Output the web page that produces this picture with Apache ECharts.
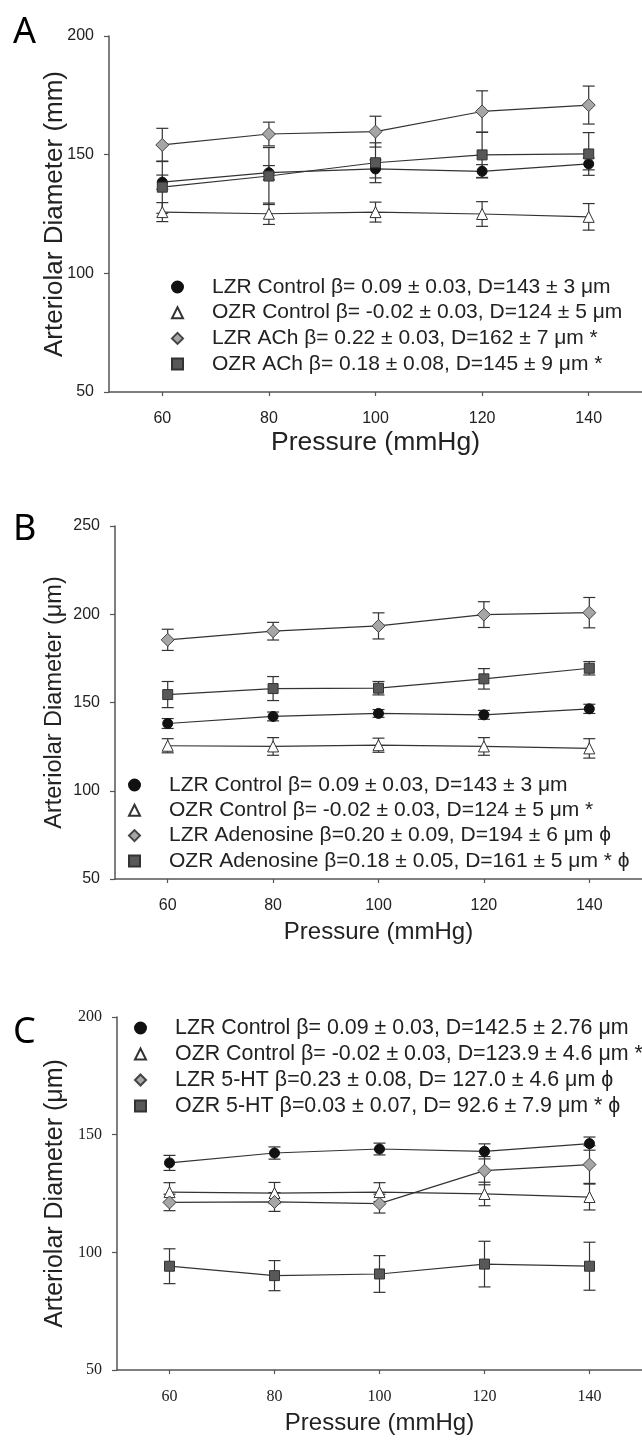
<!DOCTYPE html>
<html><head><meta charset="utf-8">
<script src="https://cdn.jsdelivr.net/npm/echarts@6/dist/echarts.min.js"></script>
<style>html,body{margin:0;padding:0;background:#fff}#c{width:642px;height:1443px}</style>
</head><body><div id="c"></div>
<script>
// ---------- data ----------
const pressures = [60, 80, 100, 120, 140];
const xTicks = [60, 80, 100, 120, 140];

// Panel A
const aLzrControl = [138.4, 142.4, 144.0, 143.0, 146.1];
const aLzrControlErr = [3.0, 3.0, 3.8, 2.8, 2.5];
const aOzrControl = [125.8, 125.1, 125.8, 125.0, 123.8];
const aOzrControlErr = [4.0, 4.5, 4.2, 5.2, 5.6];
const aLzrACh = [154.1, 158.7, 159.7, 168.2, 170.9];
const aLzrAChErr = [7.0, 5.0, 6.5, 8.7, 8.0];
const aOzrACh = [136.3, 141.0, 146.6, 149.9, 150.3];
const aOzrAChErr = [11.0, 12.0, 8.4, 9.5, 9.0];
const aLegend = [
  'LZR Control \u03b2= 0.09 \u00b1 0.03, D=143 \u00b1 3 \u03bcm',
  'OZR Control \u03b2= -0.02 \u00b1 0.03, D=124 \u00b1 5 \u03bcm',
  'LZR ACh \u03b2= 0.22 \u00b1 0.03, D=162 \u00b1 7 \u03bcm *',
  'OZR ACh \u03b2= 0.18 \u00b1 0.08, D=145 \u00b1 9 \u03bcm *'
];

// Panel B
const bLzrControl = [138.1, 142.1, 143.8, 143.0, 146.4];
const bLzrControlErr = [2.8, 2.5, 2.2, 2.5, 2.6];
const bOzrControl = [125.5, 125.1, 125.8, 125.1, 124.0];
const bOzrControlErr = [4.0, 5.0, 4.0, 5.0, 5.5];
const bLzrAdenosine = [185.5, 190.4, 193.4, 199.8, 200.9];
const bLzrAdenosineErr = [6.0, 5.0, 7.4, 7.3, 8.6];
const bOzrAdenosine = [154.5, 157.9, 158.1, 163.4, 169.4];
const bOzrAdenosineErr = [7.4, 6.8, 3.8, 5.8, 3.8];
const bLegend = [
  'LZR Control \u03b2= 0.09 \u00b1 0.03, D=143 \u00b1 3 \u03bcm',
  'OZR Control \u03b2= -0.02 \u00b1 0.03, D=124 \u00b1 5 \u03bcm *',
  'LZR Adenosine \u03b2=0.20 \u00b1 0.09, D=194 \u00b1 6 \u03bcm \u03d5',
  'OZR Adenosine \u03b2=0.18 \u00b1 0.05, D=161 \u00b1 5 \u03bcm * \u03d5'
];

// Panel C
const cLzrControl = [138.0, 142.2, 143.9, 142.9, 146.2];
const cLzrControlErr = [3.2, 2.6, 2.5, 3.2, 2.8];
const cOzrControl = [125.6, 125.2, 125.6, 124.8, 123.5];
const cOzrControlErr = [4.0, 4.5, 4.0, 5.0, 5.5];
const cLzr5HT = [121.2, 121.4, 120.7, 134.7, 137.3];
const cLzr5HTErr = [3.5, 4.0, 4.0, 6.0, 8.0];
const cOzr5HT = [94.1, 90.1, 90.8, 95.0, 94.1];
const cOzr5HTErr = [7.4, 6.4, 7.8, 9.7, 10.2];
const cLegend = [
  'LZR Control \u03b2= 0.09 \u00b1 0.03, D=142.5 \u00b1 2.76 \u03bcm',
  'OZR Control \u03b2= -0.02 \u00b1 0.03, D=123.9 \u00b1 4.6 \u03bcm *',
  'LZR 5-HT \u03b2=0.23 \u00b1 0.08, D= 127.0 \u00b1 4.6 \u03bcm \u03d5',
  'OZR 5-HT \u03b2=0.03 \u00b1 0.07, D= 92.6 \u00b1 7.9 \u03bcm * \u03d5'
];

// ---------- styles ----------
const SANS = 'Liberation Sans, Arial, sans-serif';
const SERIF = 'Liberation Serif, Times New Roman, serif';
const styles = [
  {symbol: 'circle', size: 10, color: '#111111', border: '#111111'},
  {symbol: 'triangle', size: 11, color: '#ffffff', border: '#333333'},
  {symbol: 'diamond', size: 13, color: '#a6a6a6', border: '#444444'},
  {symbol: 'rect', size: 10, color: '#585858', border: '#333333'}
];

const panels = [
  {key: 'A', series: [[aLzrControl, aLzrControlErr], [aOzrControl, aOzrControlErr], [aLzrACh, aLzrAChErr], [aOzrACh, aOzrAChErr]],
   legend: aLegend, yMax: 200, yName: 'Arteriolar Diameter (mm)',
   grid: {left: 109, top: 36, width: 535, height: 356}, tickFont: SANS, tickSize: 16,
   yNameSize: 26, yNameGap: 41, xNameSize: 26.5, xNameGap: 37, legendFont: 21,
   legendPos: {left: 171, top: 276, gap: 3.7}},
  {key: 'B', series: [[bLzrControl, bLzrControlErr], [bOzrControl, bOzrControlErr], [bLzrAdenosine, bLzrAdenosineErr], [bOzrAdenosine, bOzrAdenosineErr]],
   legend: bLegend, yMax: 250, yName: 'Arteriolar Diameter (\u03bcm)',
   grid: {left: 115, top: 526, width: 529, height: 353}, tickFont: SANS, tickSize: 16,
   yNameSize: 23.5, yNameGap: 48, xNameSize: 24, xNameGap: 41, legendFont: 21,
   legendPos: {left: 128, top: 774, gap: 3.3}},
  {key: 'C', series: [[cLzrControl, cLzrControlErr], [cOzrControl, cOzrControlErr], [cLzr5HT, cLzr5HTErr], [cOzr5HT, cOzr5HTErr]],
   legend: cLegend, yMax: 200, yName: 'Arteriolar Diameter (\u03bcm)',
   grid: {left: 117, top: 1017, width: 527, height: 353}, tickFont: SERIF, tickSize: 16,
   yNameSize: 25, yNameGap: 49, xNameSize: 24, xNameGap: 41, legendFont: 21.4,
   legendPos: {left: 134, top: 1017, gap: 4}}
];

function errRender(params, api) {
  const x = api.value(0), lo = api.value(1), hi = api.value(2);
  const pLo = api.coord([x, lo]), pHi = api.coord([x, hi]);
  const w = 6;
  const st = {stroke: '#333333', lineWidth: 1.2};
  return {type: 'group', children: [
    {type: 'line', shape: {x1: pLo[0], y1: pLo[1], x2: pHi[0], y2: pHi[1]}, style: st},
    {type: 'line', shape: {x1: pLo[0] - w, y1: pLo[1], x2: pLo[0] + w, y2: pLo[1]}, style: st},
    {type: 'line', shape: {x1: pHi[0] - w, y1: pHi[1], x2: pHi[0] + w, y2: pHi[1]}, style: st}
  ]};
}

const grids = [], xAxes = [], yAxes = [], series = [], legends = [], graphics = [];
panels.forEach((p, pi) => {
  grids.push(Object.assign({containLabel: false}, p.grid));
  xAxes.push({
    type: 'value', gridIndex: pi, min: 50, max: 150,
    name: 'Pressure (mmHg)', nameLocation: 'middle', nameGap: p.xNameGap, nameMoveOverlap: false,
    nameTextStyle: {fontFamily: SANS, fontSize: p.xNameSize, color: '#222'},
    axisLine: {show: true, onZero: false, lineStyle: {color: '#555', width: 1.5}},
    axisTick: {show: true, length: 4, customValues: xTicks, lineStyle: {color: '#555', width: 1.2}},
    axisLabel: {customValues: xTicks, margin: 19, fontFamily: p.tickFont, fontSize: p.tickSize, color: '#222'},
    splitLine: {show: false}
  });
  yAxes.push({
    type: 'value', gridIndex: pi, min: 50, max: p.yMax, interval: 50,
    name: p.yName, nameLocation: 'middle', nameGap: p.yNameGap, nameMoveOverlap: false,
    nameTextStyle: {fontFamily: SANS, fontSize: p.yNameSize, color: '#222'},
    axisLine: {show: true, onZero: false, lineStyle: {color: '#555', width: 1.5}},
    axisTick: {show: true, length: 5, lineStyle: {color: '#555', width: 1.2}},
    axisLabel: {margin: 15, fontFamily: p.tickFont, fontSize: p.tickSize, color: '#222'},
    splitLine: {show: false}
  });
  const legendData = [];
  const labelMap = {};
  p.series.forEach((s, si) => {
    const name = p.key + ' ' + si;
    const st = styles[si];
    labelMap[name] = p.legend[si];
    legendData.push({name: name, icon: st.symbol});
    series.push({
      type: 'custom', xAxisIndex: pi, yAxisIndex: pi, z: 1, silent: true,
      renderItem: errRender, encode: {x: 0, y: [1, 2]},
      data: pressures.map((x, i) => [x, s[0][i] - s[1][i], s[0][i] + s[1][i]])
    });
    series.push({
      type: 'line', name: name, xAxisIndex: pi, yAxisIndex: pi, z: 3,
      symbol: st.symbol, symbolSize: st.size, showSymbol: true,
      lineStyle: {color: '#333333', width: 1.2},
      itemStyle: {color: st.color, borderColor: st.border, borderWidth: 1},
      data: pressures.map((x, i) => [x, s[0][i]]),
      animation: false
    });
  });
  legends.push({
    data: legendData, orient: 'vertical', left: p.legendPos.left, top: p.legendPos.top,
    itemWidth: 11, itemHeight: 11, itemGap: p.legendPos.gap, padding: 0, selectedMode: false,
    formatter: n => labelMap[n],
    textStyle: {fontFamily: SANS, fontSize: p.legendFont, color: '#222', lineHeight: 22, padding: [0, 0, 0, 24]}
  });
});

graphics.push({type: 'text', left: 13, top: 15, style: {text: 'A', fontSize: 36, fontFamily: 'Noto Sans', fill: '#000'}});
graphics.push({type: 'text', left: 13, top: 512, style: {text: 'B', fontSize: 36, fontFamily: 'Noto Sans', fill: '#000'}});
graphics.push({type: 'text', left: 13, top: 1015, style: {text: 'C', fontSize: 36, fontFamily: 'Noto Sans', fill: '#000'}});

const chart = echarts.init(document.getElementById('c'), null, {renderer: 'canvas'});
chart.setOption({
  animation: false,
  backgroundColor: '#ffffff',
  grid: grids, xAxis: xAxes, yAxis: yAxes, series: series, legend: legends, graphic: graphics
});
</script></body></html>
